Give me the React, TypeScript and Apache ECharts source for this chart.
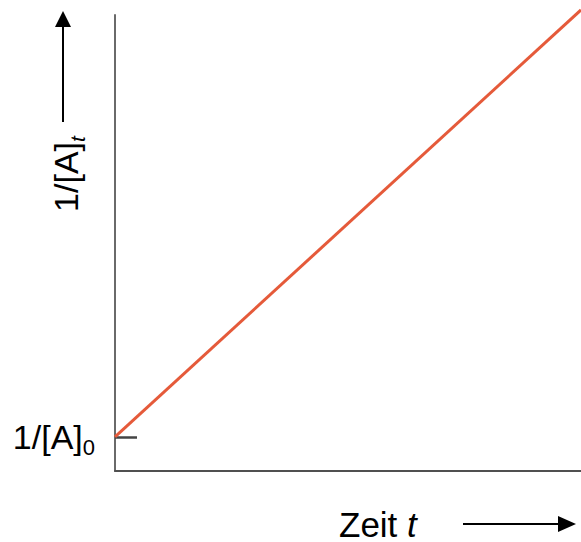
import React, { useEffect, useRef } from "react";
import * as echarts from "echarts";

// Time (arbitrary units) and 1/[A] values along the straight line
const timeValues = [0, 10];
const inverseConc = [1, 13.55];
const initialInverse = 1;
const yAxisMax = 13.4;
const xAxisMax = 10;

const FONT = "Liberation Sans, Arial, sans-serif";

export default function App() {
  const ref = useRef<HTMLDivElement>(null);
  useEffect(() => {
    if (!ref.current) return;
    const chart = echarts.init(ref.current, null, { renderer: "svg" });
    chart.setOption({
      animation: false,
      backgroundColor: "#ffffff",
      grid: { left: 115, right: 0, top: 15, bottom: 71 },
      xAxis: {
        type: "value",
        min: 0,
        max: xAxisMax,
        axisLine: { show: true, lineStyle: { color: "#505050", width: 2 } },
        axisTick: { show: false },
        axisLabel: { show: false },
        splitLine: { show: false },
      },
      yAxis: {
        type: "value",
        min: 0,
        max: yAxisMax,
        axisLine: { show: true, lineStyle: { color: "#6a6a6a", width: 2 } },
        axisTick: {
          show: true,
          inside: true,
          length: 22,
          customValues: [initialInverse],
          lineStyle: { color: "#444", width: 2.5 },
        },
        axisLabel: {
          show: true,
          customValues: [initialInverse],
          margin: 20,
          formatter: () => "{a|1/[A]}{s|0}",
          rich: {
            a: { fontFamily: FONT, fontSize: 34, color: "#000", lineHeight: 44, verticalAlign: "middle" },
            s: { fontFamily: FONT, fontSize: 22, color: "#000", lineHeight: 20, verticalAlign: "bottom" },
          },
        },
        splitLine: { show: false },
      },
      series: [
        {
          type: "line",
          data: timeValues.map((t, i) => [t, inverseConc[i]]),
          showSymbol: false,
          clip: false,
          lineStyle: { color: "#e55a3a", width: 3 },
        },
      ],
      graphic: [
        // y-axis name
        {
          type: "text",
          x: 66,
          y: 174,
          rotation: Math.PI / 2,
          style: {
            text: "{a|1/[A]}{s|t}",
            align: "center",
            verticalAlign: "middle",
            rich: {
              a: { fontFamily: FONT, fontSize: 34, fill: "#000", lineHeight: 44, verticalAlign: "middle" },
              s: { fontFamily: FONT, fontSize: 21, fontStyle: "italic", fill: "#000", lineHeight: 20, verticalAlign: "bottom" },
            },
          },
        },
        { type: "line", shape: { x1: 63, y1: 122, x2: 63, y2: 24 }, style: { stroke: "#000", lineWidth: 2 } },
        { type: "polygon", shape: { points: [[55, 27], [71, 27], [63, 11]] }, style: { fill: "#000" } },
        // x-axis name
        {
          type: "text",
          x: 339,
          y: 524,
          style: {
            text: "{a|Zeit }{b|t}",
            verticalAlign: "middle",
            rich: {
              a: { fontFamily: FONT, fontSize: 35, fill: "#000" },
              b: { fontFamily: FONT, fontSize: 35, fontStyle: "italic", fill: "#000" },
            },
          },
        },
        { type: "line", shape: { x1: 463, y1: 524, x2: 562, y2: 524 }, style: { stroke: "#000", lineWidth: 2 } },
        { type: "polygon", shape: { points: [[558, 516], [558, 532], [576, 524]] }, style: { fill: "#000" } },
      ],
    });
    return () => chart.dispose();
  }, []);
  return <div ref={ref} style={{ position: "fixed", left: 0, top: 0, width: 581, height: 542 }} />;
}
